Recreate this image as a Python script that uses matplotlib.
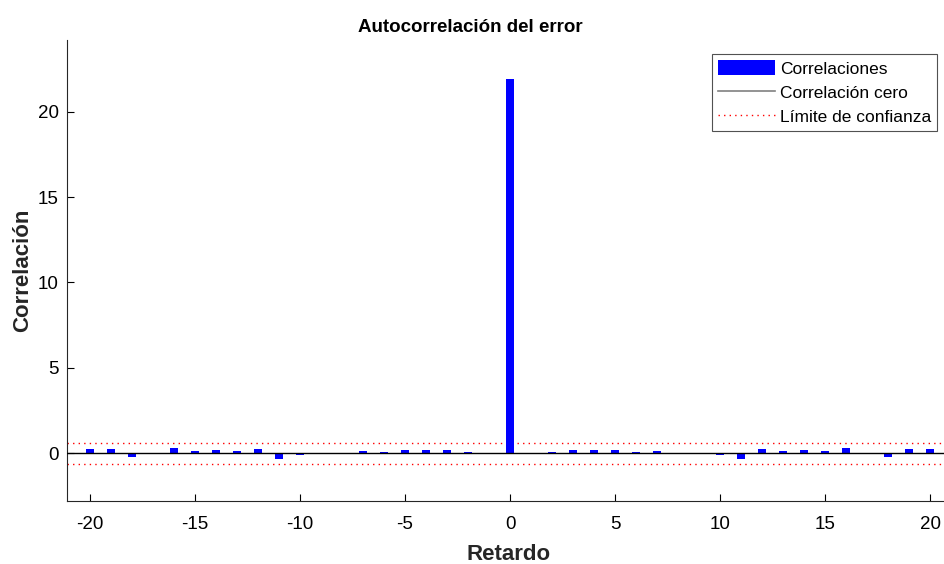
import matplotlib
matplotlib.use("Agg")
import matplotlib.pyplot as plt
from matplotlib.patches import Patch
from matplotlib.lines import Line2D

plt.rcParams['font.family'] = ['Liberation Sans', 'DejaVu Sans']
plt.rcParams['axes.unicode_minus'] = False

lags = list(range(-20, 21))
corr = [0.25, 0.22, -0.25, 0.0, 0.33, 0.14, 0.20, 0.14, 0.27, -0.35,
        -0.08, -0.04, 0.02, 0.10, 0.07, 0.20, 0.20, 0.20, 0.07, 0.0,
        21.9,
        0.0, 0.07, 0.20, 0.20, 0.20, 0.07, 0.10, 0.02, -0.04, -0.08,
        -0.35, 0.27, 0.14, 0.20, 0.14, 0.33, 0.0, -0.25, 0.22, 0.25]
conf_limit = 0.62
xticks = [-20, -15, -10, -5, 0, 5, 10, 15, 20]
yticks = [0, 5, 10, 15, 20]

fig = plt.figure(figsize=(9.44, 5.64), dpi=100)
ax = fig.add_axes([67/944, 63/564, 884/944, 461/564])

ax.bar(lags, corr, width=0.4, color='#0000ff', zorder=2)
ax.axhline(0, color='black', lw=1.0, zorder=3)
ax.axhline(conf_limit, color='red', lw=1.0, ls=(0, (1, 3)), zorder=1)
ax.axhline(-conf_limit, color='red', lw=1.0, ls=(0, (1, 3)), zorder=1)

ax.set_xlim(-21.1, 21.0)
ax.set_ylim(-2.8, 24.2)
ax.set_xticks(xticks)
ax.set_yticks(yticks)
ax.tick_params(direction='in', length=5, labelsize=13.5, width=0.8)
ax.tick_params(axis='x', pad=11)
ax.tick_params(axis='y', pad=6)
for side in ('top', 'right'):
    ax.spines[side].set_visible(False)
for side in ('left', 'bottom'):
    ax.spines[side].set_color('#262626')

fig.text(470/944, 1 - 32/564, 'Autocorrelación del error', fontsize=13.5,
         fontweight='bold', ha='center', va='baseline')
ax.set_xlabel('Retardo', fontsize=16, fontweight='bold', labelpad=8, color='#262626')
ax.set_ylabel('Correlación', fontsize=16, fontweight='bold', labelpad=3, color='#262626')

handles = [
    Patch(facecolor='#0000ff', edgecolor='none', label='Correlaciones'),
    Line2D([], [], color='#808080', lw=1.2, label='Correlación cero'),
    Line2D([], [], color='red', lw=1.0, ls=(0, (1, 3)), label='Límite de confianza'),
]
leg = ax.legend(handles=handles, loc='upper right', bbox_to_anchor=(937/944, 1 - 54/564),
                bbox_transform=fig.transFigure, fontsize=12.5, frameon=True, fancybox=False,
                edgecolor='#262626', handlelength=3.3, handleheight=0.95, borderpad=0.35,
                labelspacing=0.45, handletextpad=0.25, borderaxespad=0)
leg.get_frame().set_linewidth(0.8)

fig.savefig('out.png', dpi=100)
